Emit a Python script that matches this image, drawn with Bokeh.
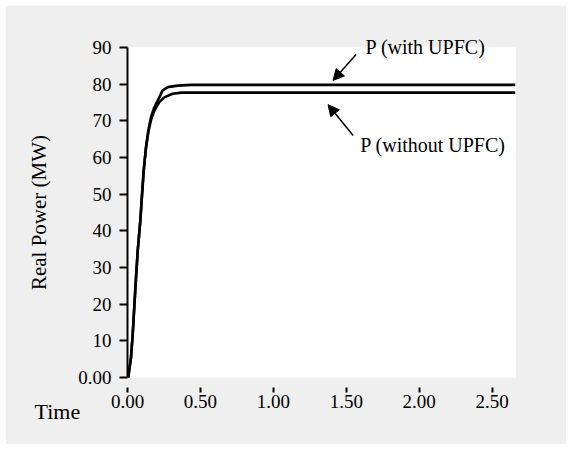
from bokeh.plotting import figure
from bokeh.models import (FixedTicker, PrintfTickFormatter, Label, Arrow, NormalHead, Range1d, Title)
from bokeh.embed import file_html
from bokeh.resources import INLINE

# ---- data ----
time_with = [0.0, 0.005, 0.024, 0.036, 0.047, 0.058, 0.070, 0.088, 0.097, 0.111, 0.127,
             0.143, 0.161, 0.184, 0.218, 0.241, 0.276, 0.344, 0.436, 2.66]
p_with = [0.0, 0.0, 5.5, 12.0, 19.6, 27.0, 34.6, 42.8, 48.3, 56.4, 62.8,
          67.4, 71.0, 73.7, 76.4, 78.3, 79.2, 79.6, 79.8, 79.8]

time_without = [0.0, 0.005, 0.024, 0.036, 0.047, 0.058, 0.070, 0.088, 0.097, 0.111, 0.127,
                0.143, 0.161, 0.184, 0.218, 0.252, 0.309, 0.37, 2.66]
p_without = [0.0, 0.0, 5.5, 12.0, 19.6, 27.0, 34.6, 42.8, 48.3, 56.4, 62.8,
             67.0, 70.2, 72.8, 75.1, 76.4, 77.4, 77.7, 77.7]

x_ticks = [0.0, 0.5, 1.0, 1.5, 2.0, 2.5]
y_ticks = [0, 10, 20, 30, 40, 50, 60, 70, 80, 90]
y_tick_labels = ["0.00", "10", "20", "30", "40", "50", "60", "70", "80", "90"]

label_with = "P (with UPFC)"
label_without = "P (without UPFC)"
x_title = "Time"
y_title = "Real Power (MW)"

FONT = "Liberation Serif"
GRAY = "#efefef"

p = figure(width=561, height=439, output_backend="svg", toolbar_location=None,
           x_range=Range1d(0, 2.66), y_range=Range1d(0, 90),
           min_border_left=122, min_border_top=42, min_border_right=51, min_border_bottom=67,
           frame_width=388, frame_height=330)
p.margin = (5, 5, 5, 5)
p.background_fill_color = "white"
p.border_fill_color = GRAY
p.outline_line_color = None
p.xgrid.visible = False
p.ygrid.visible = False

p.line(time_with, p_with, line_color="black", line_width=2.6)
p.line(time_without, p_without, line_color="black", line_width=2.6)

# x axis
xa = p.xaxis[0]
xa.ticker = FixedTicker(ticks=x_ticks)
xa.formatter = PrintfTickFormatter(format="%.2f")
xa.axis_line_color = None
xa.major_tick_in = -10
xa.major_tick_out = 15
xa.major_tick_line_width = 2
xa.major_tick_line_color = "black"
xa.minor_tick_line_color = None
xa.major_label_text_font = FONT
xa.major_label_text_font_size = "19px"
xa.major_label_text_color = "black"
xa.major_label_standoff = 2

# y axis
ya = p.yaxis[0]
ya.ticker = FixedTicker(ticks=y_ticks)
ya.major_label_overrides = {t: s for t, s in zip(y_ticks, y_tick_labels)}
ya.axis_line_width = 2
ya.axis_line_color = "black"
ya.major_tick_in = 0
ya.major_tick_out = 8
ya.major_tick_line_width = 2
ya.minor_tick_line_color = None
ya.major_label_text_font = FONT
ya.major_label_text_font_size = "19px"
ya.major_label_text_color = "black"
ya.major_label_standoff = 8
ya.axis_label = y_title
ya.axis_label_text_font = FONT
ya.axis_label_text_font_size = "21px"
ya.axis_label_text_font_style = "normal"
ya.axis_label_text_color = "black"
ya.axis_label_standoff = 24

# text outside the frame: use titles (not clipped)
p.title.text = label_with
p.title.align = "left"
p.title.offset = 238
p.title.standoff = -21
p.title.text_font = FONT
p.title.text_font_size = "20px"
p.title.text_font_style = "normal"
p.title.text_color = "black"

p.add_layout(Title(text=x_title, align="left", offset=-93, standoff=-27,
                   text_font=FONT, text_font_size="22px", text_font_style="normal",
                   text_color="black"), "below")

p.add_layout(Label(x=1.595, y=63.5, text=label_without, text_baseline="middle",
                   text_font=FONT, text_font_size="20px", text_color="black"))

head = dict(size=11, fill_color="black", line_color="black")
p.add_layout(Arrow(x_start=1.567, y_start=88.1, x_end=1.409, y_end=81.0,
                   line_width=1.5, end=NormalHead(**head)))
p.add_layout(Arrow(x_start=1.547, y_start=66.0, x_end=1.375, y_end=74.4,
                   line_width=1.5, end=NormalHead(**head)))

open("out.html", "w").write(file_html(p, INLINE))
